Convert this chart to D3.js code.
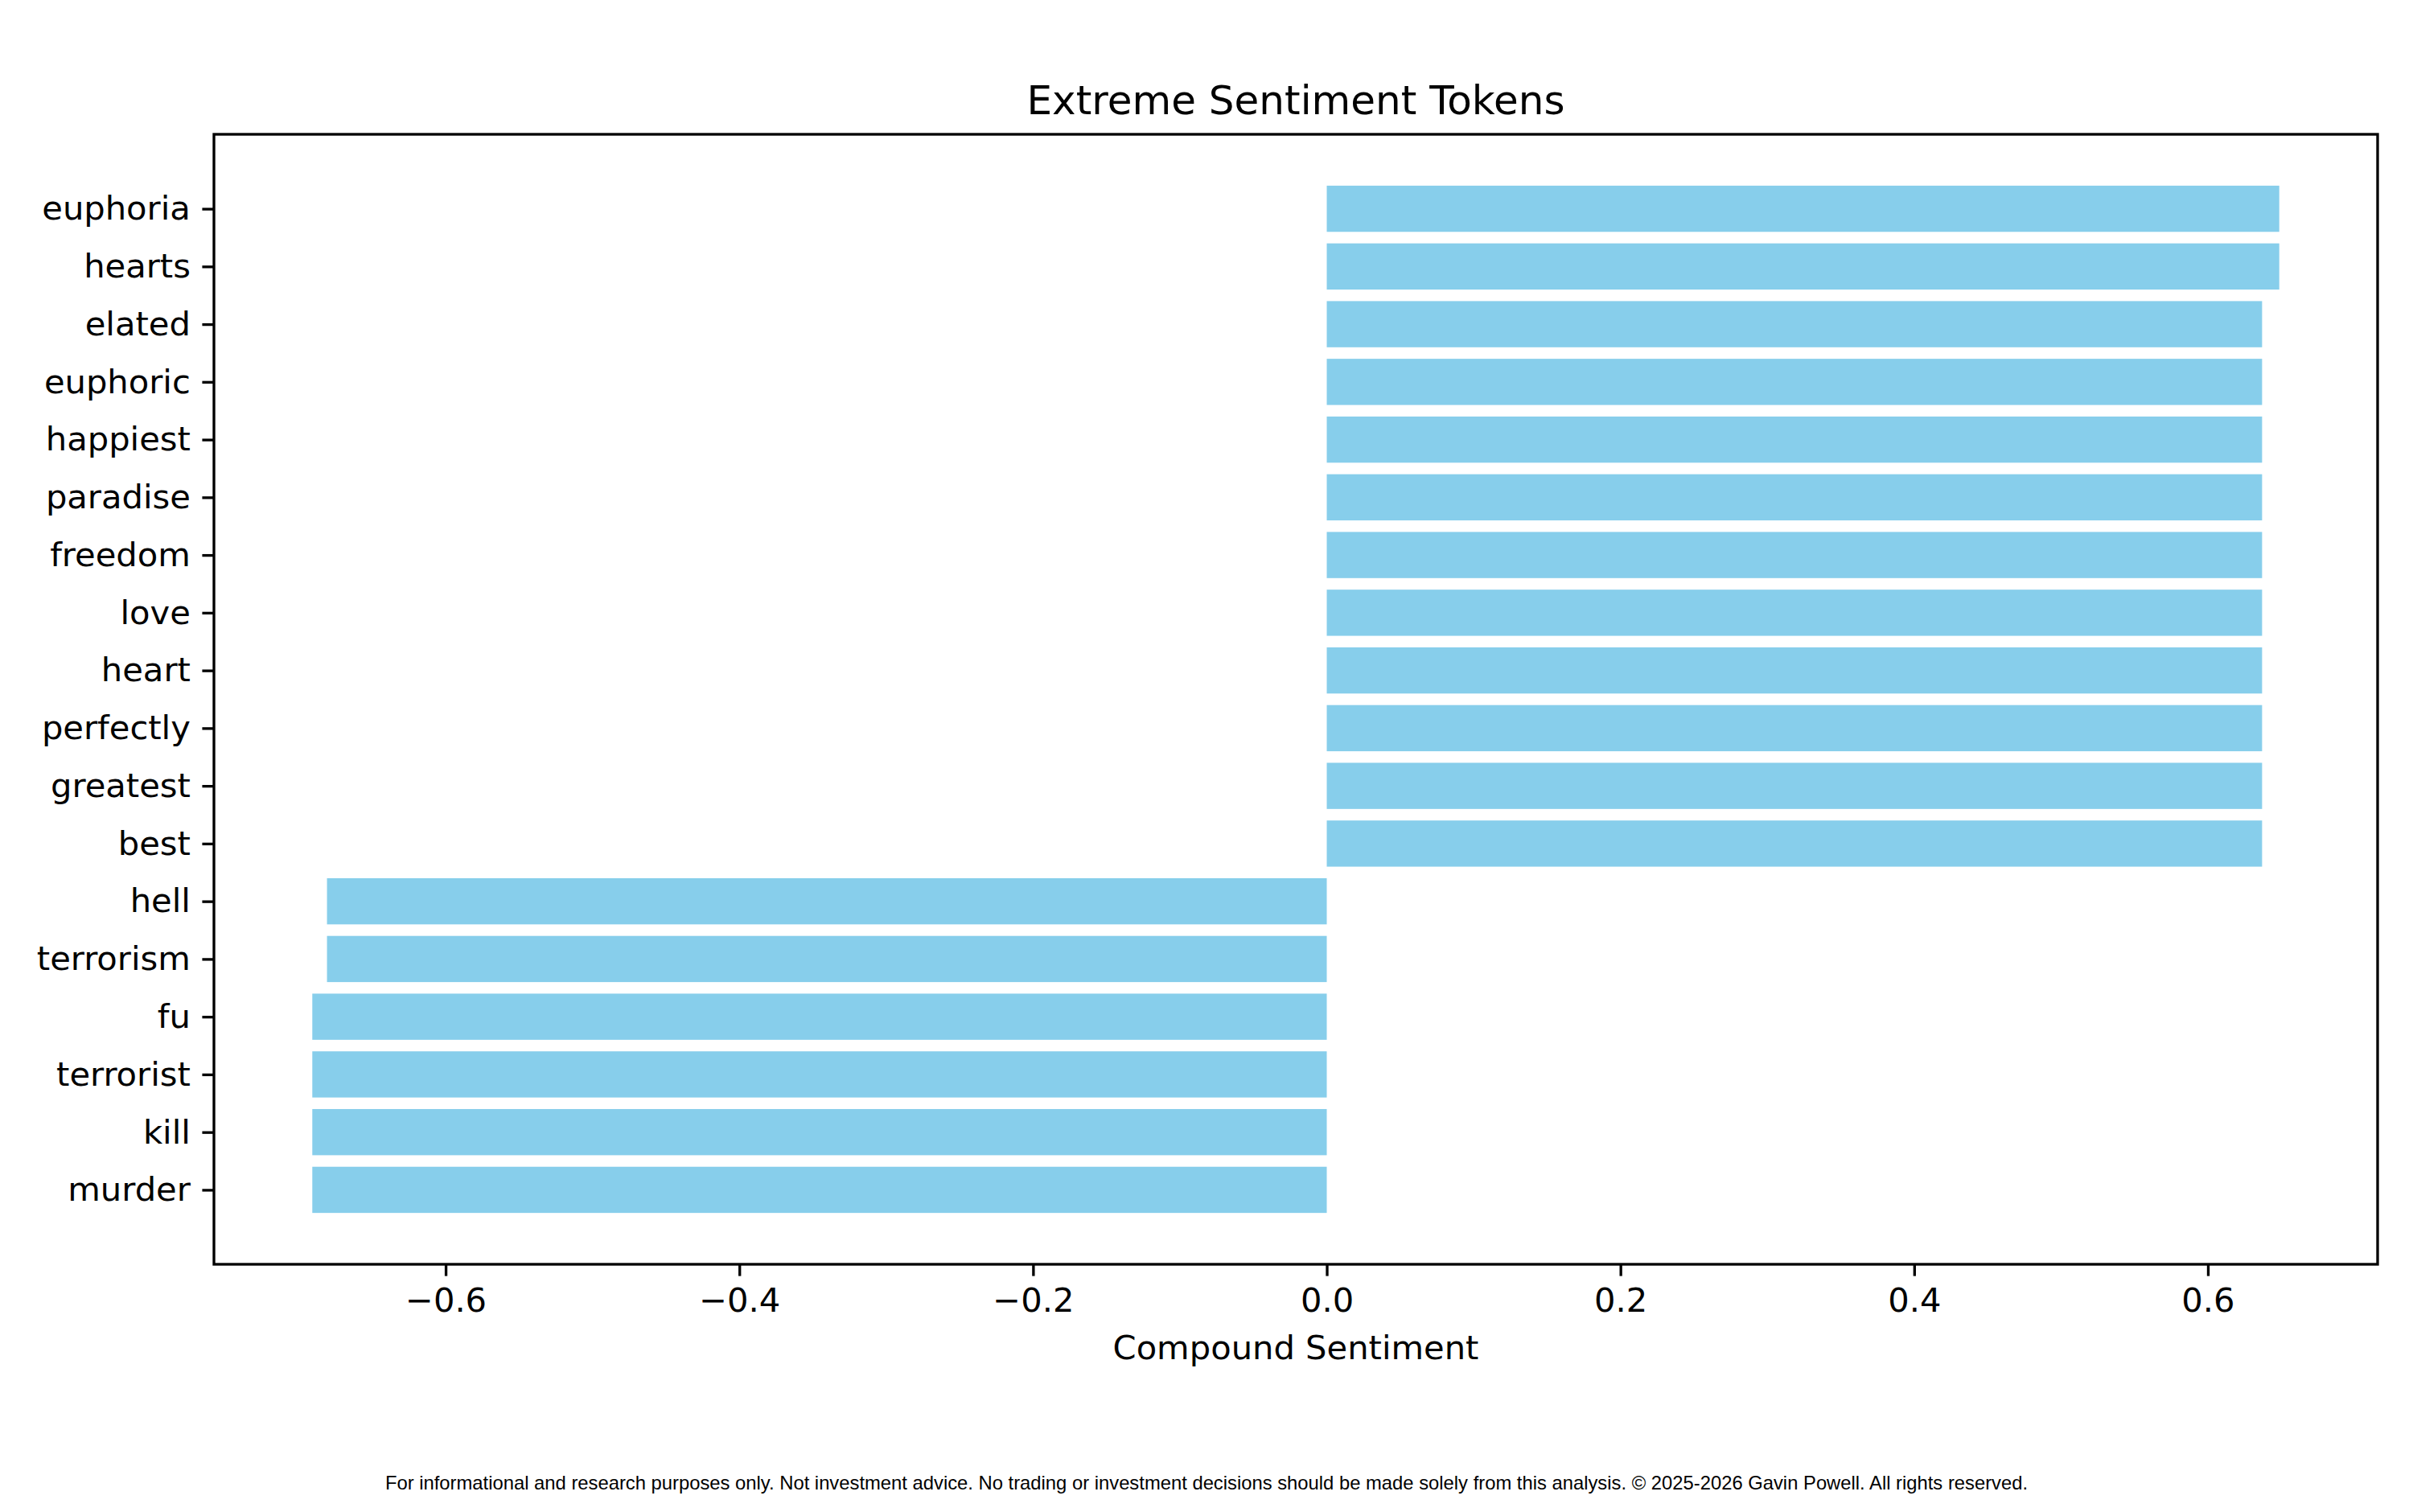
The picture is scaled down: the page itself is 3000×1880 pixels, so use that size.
<!DOCTYPE html>
<html>
<head>
<meta charset="utf-8">
<script src="https://cdn.jsdelivr.net/npm/d3@7"></script>
<style>
  body { margin: 0; background: #fff; }
  svg { display: block; }
</style>
</head>
<body>
<script>
// tokens from top to bottom, with their compound sentiment
var tokens = ["euphoria", "hearts", "elated", "euphoric", "happiest", "paradise",
              "freedom", "love", "heart", "perfectly", "greatest", "best",
              "hell", "terrorism", "fu", "terrorist", "kill", "murder"];
var scores = [0.6486, 0.6486, 0.6369, 0.6369, 0.6369, 0.6369,
              0.6369, 0.6369, 0.6369, 0.6369, 0.6369, 0.6369,
              -0.6808, -0.6808, -0.6908, -0.6908, -0.6908, -0.6908];
var xTicks = [-0.6, -0.4, -0.2, 0.0, 0.2, 0.4, 0.6];

var W = 3000, H = 1880;
var pt = 300 / 72;   // figure was saved at 300 dpi
var plotL = 266, plotR = 2956, plotT = 167, plotB = 1572;
var barH = 0.8;

var svg = d3.select("body").append("svg")
    .attr("width", W)
    .attr("height", H);

svg.append("rect").attr("width", W).attr("height", H).attr("fill", "#fff");

// matplotlib style 5% margins
var lo = d3.min(scores.concat([0])), hi = d3.max(scores.concat([0]));
var pad = (hi - lo) * 0.05;
var x = d3.scaleLinear()
    .domain([lo - pad, hi + pad])
    .range([plotL, plotR]);

var yLo = -barH / 2, yHi = tokens.length - 1 + barH / 2;
var yPad = (yHi - yLo) * 0.05;
var y = d3.scaleLinear()
    .domain([yLo - yPad, yHi + yPad])
    .range([plotT, plotB]);

var data = tokens.map(function(t, i) { return {token: t, score: scores[i], i: i}; });

svg.append("g")
    .selectAll("rect")
    .data(data)
    .enter()
    .append("rect")
    .attr("x", function(d) { return x(Math.min(0, d.score)); })
    .attr("width", function(d) { return Math.abs(x(d.score) - x(0)); })
    .attr("y", function(d) { return y(d.i - barH / 2); })
    .attr("height", function(d) { return y(d.i + barH / 2) - y(d.i - barH / 2); })
    .attr("fill", "#87CEEB");

var font = "'DejaVu Sans', sans-serif";

var xAxis = svg.append("g")
    .attr("transform", "translate(0," + plotB + ")")
    .call(d3.axisBottom(x)
        .tickValues(xTicks)
        .tickFormat(d3.format(".1f"))
        .tickSize(3.5 * pt)
        .tickPadding(3.5 * pt));

var yAxis = svg.append("g")
    .attr("transform", "translate(" + plotL + ",0)")
    .call(d3.axisLeft(y)
        .tickValues(d3.range(tokens.length))
        .tickFormat(function(i) { return tokens[i]; })
        .tickSize(3.5 * pt)
        .tickPadding(3.5 * pt));

[xAxis, yAxis].forEach(function(g) {
    g.select(".domain").remove();
    g.selectAll(".tick line").attr("stroke", "#000").attr("stroke-width", 0.8 * pt);
    g.selectAll(".tick text")
        .attr("fill", "#000")
        .style("font-family", font)
        .style("font-size", (10 * pt) + "px");
});

// frame
svg.append("rect")
    .attr("x", plotL).attr("y", plotT)
    .attr("width", plotR - plotL).attr("height", plotB - plotT)
    .attr("fill", "none")
    .attr("stroke", "#000")
    .attr("stroke-width", 0.8 * pt);

svg.append("text")
    .attr("x", (plotL + plotR) / 2).attr("y", 142)
    .attr("text-anchor", "middle")
    .style("font-family", font)
    .style("font-size", (12 * pt) + "px")
    .text("Extreme Sentiment Tokens");

svg.append("text")
    .attr("x", (plotL + plotR) / 2).attr("y", 1690)
    .attr("text-anchor", "middle")
    .style("font-family", font)
    .style("font-size", (10 * pt) + "px")
    .text("Compound Sentiment");

svg.append("text")
    .attr("x", W / 2).attr("y", 1852)
    .attr("text-anchor", "middle")
    .style("font-family", "'Liberation Sans', Arial, sans-serif")
    .style("font-size", "23.8px")
    .text("For informational and research purposes only. Not investment advice. No trading or investment decisions should be made solely from this analysis. \u00a9 2025-2026 Gavin Powell. All rights reserved.");
</script>
</body>
</html>
